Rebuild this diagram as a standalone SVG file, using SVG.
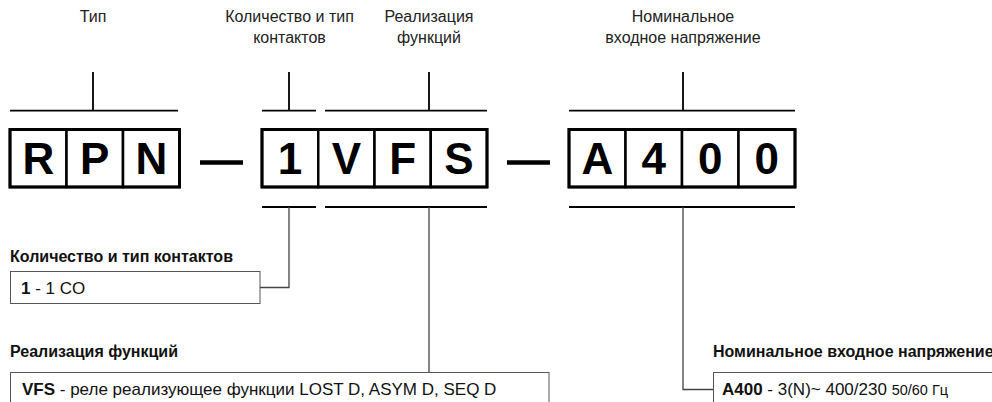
<svg xmlns="http://www.w3.org/2000/svg" width="992" height="402" viewBox="0 0 992 402">
<style>
.lbl{font-family:"Liberation Sans",Arial,sans-serif;font-size:16px;fill:#222;text-anchor:middle}
.big{font-family:"Liberation Sans",Arial,sans-serif;font-size:44px;font-weight:bold;fill:#000;text-anchor:middle}
.cell{fill:#fff;stroke:#000;stroke-width:2.5}
.outer{fill:none;stroke:#000;stroke-width:3}
.br{stroke:#000;stroke-width:1.8;fill:none}
.con{stroke:#444;stroke-width:1.3;fill:none}
.hd{font-family:"Liberation Sans",Arial,sans-serif;font-size:16px;font-weight:bold;fill:#111}
.tx{font-family:"Liberation Sans",Arial,sans-serif;font-size:17px;fill:#111}
.box{fill:#fff;stroke:#555;stroke-width:1}
</style>
<g id="top-labels">
<text class="lbl" x="289.5" y="22">Количество и тип</text>
<text class="lbl" x="289.5" y="43">контактов</text>
<text class="lbl" x="93" y="22">Тип</text>
<text class="lbl" x="429" y="22">Реализация</text>
<text class="lbl" x="429" y="43">функций</text>
<text class="lbl" x="683" y="22">Номинальное</text>
<text class="lbl" x="683" y="43">входное напряжение</text>
</g>
<g id="group-RPN">
<rect class="cell" x="10" y="129.5" width="56.5" height="57.5"/>
<rect class="cell" x="66.5" y="129.5" width="56.5" height="57.5"/>
<rect class="cell" x="123" y="129.5" width="56.5" height="57.5"/>
<rect class="outer" x="10" y="129.5" width="169.5" height="57.5"/>
<text class="big" x="38.3" y="174">R</text>
<text class="big" x="94.8" y="174">P</text>
<text class="big" x="151.3" y="174">N</text>
</g>
<g id="dash1"><line x1="200" y1="162.5" x2="243" y2="162.5" stroke="#000" stroke-width="4.5"/></g>
<g id="group-1VFS">
<rect class="cell" x="262" y="129.5" width="56.25" height="57.5"/>
<rect class="cell" x="318.25" y="129.5" width="56.25" height="57.5"/>
<rect class="cell" x="374.5" y="129.5" width="56.25" height="57.5"/>
<rect class="cell" x="430.75" y="129.5" width="56.25" height="57.5"/>
<rect class="outer" x="262" y="129.5" width="225" height="57.5"/>
<text class="big" x="290" y="174">1</text>
<text class="big" x="346.4" y="174">V</text>
<text class="big" x="402.6" y="174">F</text>
<text class="big" x="458.9" y="174">S</text>
</g>
<g id="dash2"><line x1="507" y1="162.5" x2="550" y2="162.5" stroke="#000" stroke-width="4.5"/></g>
<g id="group-A400">
<rect class="cell" x="569" y="129.5" width="56.5" height="57.5"/>
<rect class="cell" x="625.5" y="129.5" width="56.5" height="57.5"/>
<rect class="cell" x="682" y="129.5" width="56.5" height="57.5"/>
<rect class="cell" x="738.5" y="129.5" width="56.5" height="57.5"/>
<rect class="outer" x="569" y="129.5" width="226" height="57.5"/>
<text class="big" x="597.3" y="174">A</text>
<text class="big" x="653.8" y="174">4</text>
<text class="big" x="710.3" y="174">0</text>
<text class="big" x="766.8" y="174">0</text>
</g>
<g id="connectors">
<path class="br" d="M10 110.7H178M93 72V110.7"/>
<path class="br" d="M262 110.7H316M289 72V110.7"/>
<path class="br" d="M325 110.7H487M429 72V110.7"/>
<path class="br" d="M569 110.7H795M683 72V110.7"/>
<path class="br" d="M262 207H316M325 207H487M569 207H795"/>
<path class="con" d="M289 207V287.5H260"/>
<path class="con" d="M429 207V372"/>
<path class="con" d="M683 207V389.5H713"/>
</g>
<g id="desc-contacts">
<text class="hd" x="10" y="262">Количество и тип контактов</text>
<rect class="box" x="10.5" y="271.5" width="249.5" height="32"/>
<text class="tx" x="21" y="294"><tspan font-weight="bold">1</tspan> - 1 CO</text>
</g>
<g id="desc-functions">
<text class="hd" x="10" y="357">Реализация функций</text>
<rect class="box" x="10.5" y="372.5" width="538.5" height="40"/>
<text class="tx" x="22" y="395"><tspan font-weight="bold">VFS</tspan> - реле реализующее функции LOST D, ASYM D, SEQ D</text>
</g>
<g id="desc-voltage">
<text class="hd" x="713" y="357">Номинальное входное напряжение</text>
<rect class="box" x="713.5" y="372.5" width="300" height="40"/>
<text class="tx" x="722" y="395"><tspan font-weight="bold">A400</tspan> - 3(N)~ 400/230 <tspan font-size="14.5">50/60 Гц</tspan></text>
</g>
</svg>
